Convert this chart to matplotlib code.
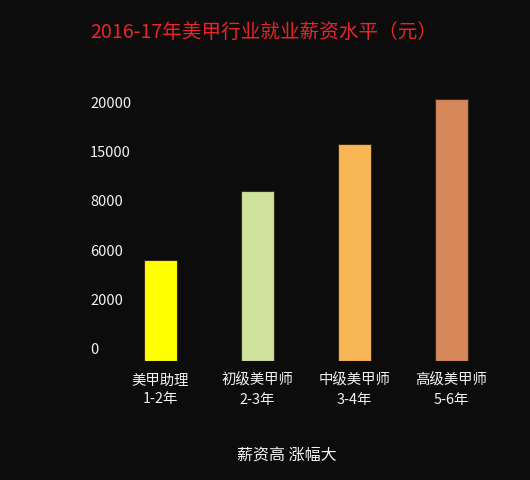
import numpy as np
import matplotlib
matplotlib.use("Agg")
import matplotlib.pyplot as plt
from matplotlib.transforms import ScaledTranslation

plt.rcParams['font.family'] = ['Noto Sans CJK SC', 'DejaVu Sans']

# ---- data ----
categories = ["美甲助理\n1-2年", "初级美甲师\n2-3年", "中级美甲师\n3-4年", "高级美甲师\n5-6年"]
salaries = [6100, 11100, 17000, 21500]
tick_values = [0, 2000, 6000, 8000, 15000, 20000]
tick_labels = ["0", "2000", "6000", "8000", "15000", "20000"]
bar_colors = ["#ffff00", "#cfe29b", "#f9b655", "#d6885a"]
title = "2016-17年美甲行业就业薪资水平（元）"
note = "薪资高 涨幅大"

BG = "#0c0c0c"

tv = np.array(tick_values, dtype=float)
pos = np.arange(len(tv), dtype=float)

def forward(v):
    v = np.asarray(v, dtype=float)
    out = np.interp(v, tv, pos)
    s_lo = (pos[1] - pos[0]) / (tv[1] - tv[0])
    s_hi = (pos[-1] - pos[-2]) / (tv[-1] - tv[-2])
    out = np.where(v < tv[0], pos[0] + (v - tv[0]) * s_lo, out)
    out = np.where(v > tv[-1], pos[-1] + (v - tv[-1]) * s_hi, out)
    return out

def inverse(p):
    p = np.asarray(p, dtype=float)
    out = np.interp(p, pos, tv)
    s_lo = (tv[1] - tv[0]) / (pos[1] - pos[0])
    s_hi = (tv[-1] - tv[-2]) / (pos[-1] - pos[-2])
    out = np.where(p < pos[0], tv[0] + (p - pos[0]) * s_lo, out)
    out = np.where(p > pos[-1], tv[-1] + (p - pos[-1]) * s_hi, out)
    return out

W, H = 530, 480
fig = plt.figure(figsize=(W / 100, H / 100), dpi=100, facecolor=BG)

left_px, right_px = 90, 500
bottom_px, top_px = 361, 90
ax = fig.add_axes([left_px / W, 1 - bottom_px / H,
                   (right_px - left_px) / W, (bottom_px - top_px) / H])
ax.set_facecolor(BG)
ax.set_yscale('function', functions=(forward, inverse))

x = np.arange(len(categories))
ax.bar(x, salaries, width=0.34, color=bar_colors, edgecolor="#3a2a1a", linewidth=0.8)

ax.set_xlim(-0.727, 3.50)
ax.set_ylim(0, inverse(5.486))

ax.set_yticks(tick_values)
ax.set_yticklabels(tick_labels)
ax.tick_params(axis='y', length=0, pad=0, labelsize=10.5, labelcolor="#f2f2f2")
for lab in ax.get_yticklabels():
    lab.set_horizontalalignment('left')
    lab.set_transform(lab.get_transform() + ScaledTranslation(0, 12 / 100, fig.dpi_scale_trans))

ax.set_xticks(x)
ax.set_xticklabels(categories, linespacing=1.45)
ax.tick_params(axis='x', length=0, pad=9, labelsize=10.4, labelcolor="#f2f2f2")

for s in ax.spines.values():
    s.set_visible(False)

fig.text(90 / W, 1 - 32 / H, title, color="#e8262a", fontsize=14.1,
         ha='left', va='center')
fig.text(287 / W, 1 - 455 / H, note, color="#f2f2f2", fontsize=11.5,
         ha='center', va='center')

fig.savefig("out.png", dpi=100, facecolor=BG)
